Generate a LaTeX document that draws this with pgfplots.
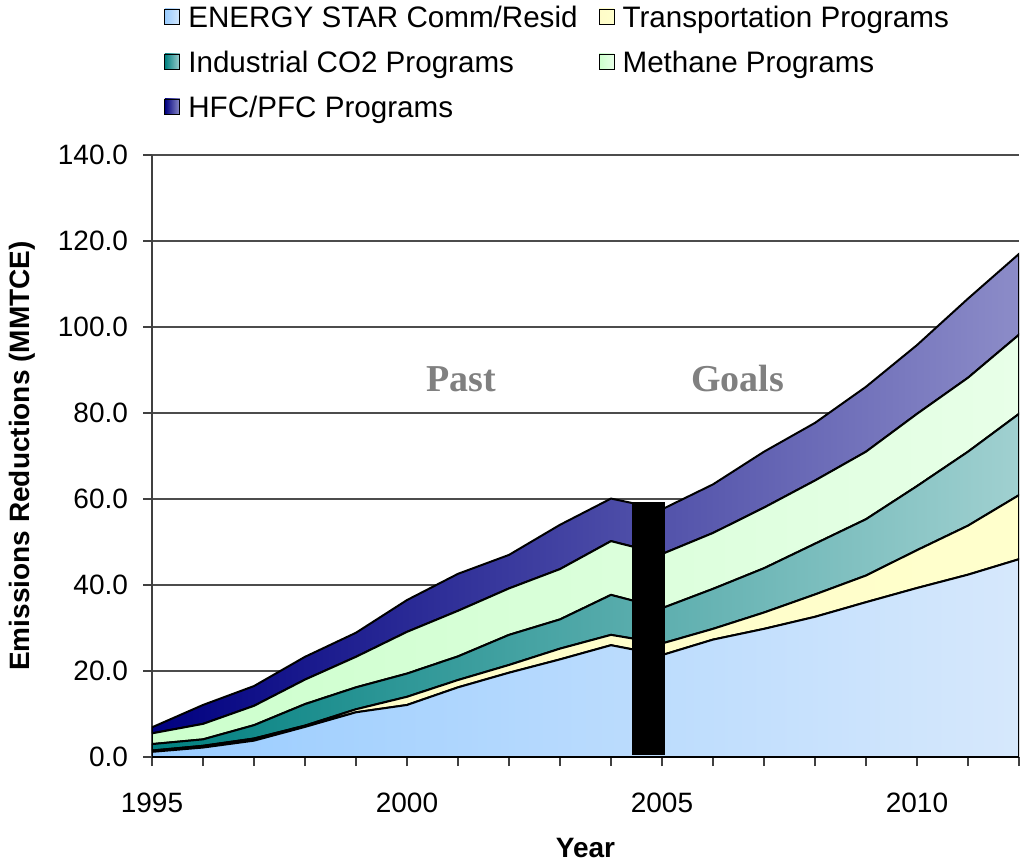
\documentclass[border=0pt]{standalone}
\usepackage{fontspec}
\setmainfont{Liberation Sans}
\newfontfamily\serifbold{Liberation Serif}
\usepackage{pgfplots}
\pgfplotsset{compat=1.18}

\definecolor{esL}{RGB}{153,204,255}
\definecolor{esR}{RGB}{214,232,252}
\definecolor{trL}{RGB}{255,252,200}
\definecolor{trR}{RGB}{255,255,204}
\definecolor{inL}{RGB}{0,128,128}
\definecolor{inR}{RGB}{160,208,208}
\definecolor{meL}{RGB}{204,255,204}
\definecolor{meR}{RGB}{232,255,232}
\definecolor{hfL}{RGB}{0,0,128}
\definecolor{hfR}{RGB}{140,140,200}

% layer values (MMTCE)
\pgfplotstableread{
year  es    tr    ind   me    hfc
1995  1.2   0.3   1.5   2.5   1.4
1996  2.2   0.4   1.5   3.6   4.4
1997  3.8   0.5   3.1   4.5   4.6
1998  7.0   0.3   5.0   5.7   5.3
1999  10.4  0.7   5.1   7.1   5.6
2000  12.1  1.9   5.4   9.7   7.4
2001  16.2  1.7   5.5   10.6  8.6
2002  19.6  1.8   7.0   10.8  7.8
2003  22.7  2.5   6.8   11.7  10.3
2004  26.0  2.4   9.3   12.5  9.9
2005  23.7  2.7   8.2   12.6  10.4
2006  27.3  2.5   9.3   13.0  11.3
2007  29.8  3.8   10.3  14.1  13.0
2008  32.6  5.2   11.8  14.7  13.4
2009  36.0  6.2   13.1  15.7  15.1
2010  39.3  8.8   14.9  16.8  16.0
2011  42.4  11.4  17.2  17.2  18.4
2012  46.0  14.9  18.9  18.4  18.8
}\datatable

\begin{document}
\begin{tikzpicture}
\begin{axis}[
    scale only axis,
    width=433.5bp, height=301bp,
    xmin=1995, xmax=2012,
    ymin=0, ymax=140,
    stack plots=y,
    axis lines*=left,
    axis line style={line width=0.8pt, black!75},
    xtick={1995,2000,2005,2010},
    minor xtick={1996,...,2012},
    ytick={0,20,...,140},
    tick align=outside,
    major tick length=4.5bp,
    minor tick length=4.5bp,
    tick style={black!75, line width=0.8pt},
    ymajorgrids,
    grid style={black!70, line width=0.6pt},
    font=\fontsize{14bp}{16bp}\selectfont,
    /pgf/number format/assume math mode=true,
    yticklabel style={/pgf/number format/.cd, fixed, fixed zerofill, precision=1, /tikz/.cd, xshift=-4bp},
    xticklabel style={/pgf/number format/1000 sep={}, yshift=-10bp},
    xlabel={\bfseries Year},
    ylabel={\bfseries Emissions Reductions (MMTCE)},
    xlabel style={at={(axis description cs:0.5,-0.151)}, anchor=center},
    ylabel style={at={(axis description cs:-0.15,0.5)}, anchor=center},
    legend columns=2,
    legend cell align=left,
    legend style={draw=none, fill=none, inner sep=0pt,
        at={(axis description cs:0.0138,1.2495)}, anchor=north west,
        font=\fontsize{14.8bp}{16bp}\selectfont,
        nodes={inner sep=0pt, text height=11bp, text depth=3bp},
        row sep=8.5bp,
        /tikz/column 1/.style={column sep=4bp},
        /tikz/column 2/.style={column sep=10.5bp},
        /tikz/column 3/.style={column sep=4bp}},
    legend image code/.code={\draw[#1, draw=black, line width=0.5pt] (0bp,-2.4bp) rectangle (7.5bp,5.1bp);},
    every axis plot/.append style={draw=black, line width=1pt},
]
\addplot[left color=esL, right color=esR] table[x=year, y=es] {\datatable} \closedcycle;
\addplot[left color=trL, right color=trR] table[x=year, y=tr] {\datatable} \closedcycle;
\addplot[left color=inL, right color=inR] table[x=year, y=ind] {\datatable} \closedcycle;
\addplot[left color=meL, right color=meR] table[x=year, y=me] {\datatable} \closedcycle;
\addplot[left color=hfL, right color=hfR] table[x=year, y=hfc] {\datatable} \closedcycle;
\legend{ENERGY STAR Comm/Resid, Transportation Programs, Industrial CO2 Programs, Methane Programs, HFC/PFC Programs}
\node[anchor=base, text=black!50, font=\serifbold\bfseries\fontsize{19bp}{20bp}\selectfont] at (axis cs:2001.07,84.9) {Past};
\node[anchor=base, text=black!50, font=\serifbold\bfseries\fontsize{19bp}{20bp}\selectfont] at (axis cs:2006.48,84.9) {Goals};
\end{axis}
% overlay axis: boundary bar between past and goals
\begin{axis}[
    scale only axis,
    width=433.5bp, height=301bp,
    xmin=1995, xmax=2012,
    ymin=0, ymax=140,
    hide axis,
]
\addplot[fill=black, draw=none] coordinates {
    (2004.41,0.5) (2005.06,0.5) (2005.06,59.2) (2004.41,59.2)
} -- cycle;
\end{axis}
\pgfresetboundingbox
\path[use as bounding box] (-76bp,-52bp) rectangle (434bp,378.5bp);
\end{tikzpicture}
\end{document}
